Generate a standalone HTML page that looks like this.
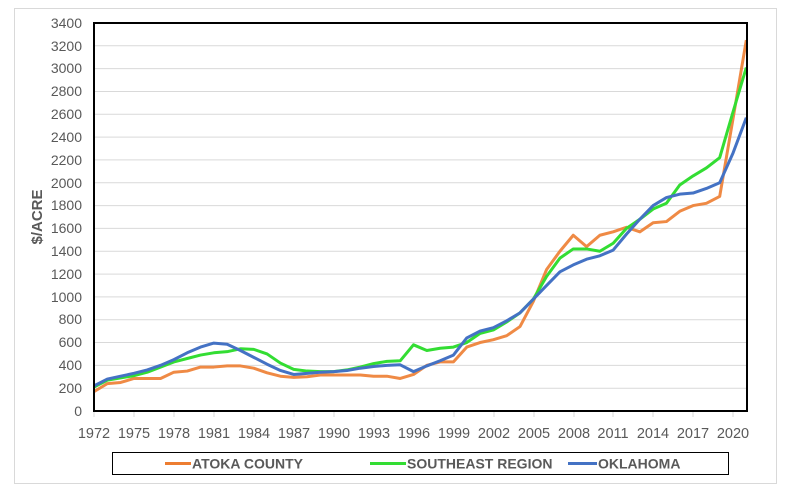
<!DOCTYPE html>
<html><head><style>
body{margin:0;background:#fff;}
svg text{font-family:"Liberation Sans",sans-serif;fill:#595959;}
</style></head><body>
<svg width="786" height="498" xmlns="http://www.w3.org/2000/svg">
<rect x="14.5" y="8.5" width="762" height="475" fill="#fff" stroke="#d9d9d9"/>
<g stroke="#d9d9d9" stroke-width="1">
<line x1="94" x2="747" y1="388.2" y2="388.2"/><line x1="94" x2="747" y1="365.4" y2="365.4"/>
<line x1="94" x2="747" y1="342.5" y2="342.5"/><line x1="94" x2="747" y1="319.7" y2="319.7"/>
<line x1="94" x2="747" y1="296.9" y2="296.9"/><line x1="94" x2="747" y1="274.1" y2="274.1"/>
<line x1="94" x2="747" y1="251.2" y2="251.2"/><line x1="94" x2="747" y1="228.4" y2="228.4"/>
<line x1="94" x2="747" y1="205.6" y2="205.6"/><line x1="94" x2="747" y1="182.8" y2="182.8"/>
<line x1="94" x2="747" y1="159.9" y2="159.9"/><line x1="94" x2="747" y1="137.1" y2="137.1"/>
<line x1="94" x2="747" y1="114.3" y2="114.3"/><line x1="94" x2="747" y1="91.5" y2="91.5"/>
<line x1="94" x2="747" y1="68.6" y2="68.6"/><line x1="94" x2="747" y1="45.8" y2="45.8"/>
</g>
<g stroke="#d9d9d9"><line x1="94" x2="94" y1="411" y2="417"/>
<line x1="134" x2="134" y1="411" y2="417"/><line x1="174" x2="174" y1="411" y2="417"/><line x1="214" x2="214" y1="411" y2="417"/><line x1="254" x2="254" y1="411" y2="417"/><line x1="294" x2="294" y1="411" y2="417"/><line x1="334" x2="334" y1="411" y2="417"/><line x1="374" x2="374" y1="411" y2="417"/><line x1="414" x2="414" y1="411" y2="417"/><line x1="454" x2="454" y1="411" y2="417"/><line x1="494" x2="494" y1="411" y2="417"/><line x1="534" x2="534" y1="411" y2="417"/><line x1="574" x2="574" y1="411" y2="417"/><line x1="613" x2="613" y1="411" y2="417"/><line x1="653" x2="653" y1="411" y2="417"/><line x1="693" x2="693" y1="411" y2="417"/><line x1="733" x2="733" y1="411" y2="417"/></g>
<g transform="translate(94,411) scale(13.3125,-0.11412)" fill="none" stroke-width="3" stroke-linejoin="round">
<polyline vector-effect="non-scaling-stroke" stroke="#ed7d31" stroke-opacity="0.9" points="0,170 1,240 2,250 3,285 4,285 5,285 6,340 7,350 8,385 9,385 10,395 11,395 12,375 13,335 14,305 15,295 16,300 17,315 18,315 19,315 20,315 21,305 22,305 23,285 24,320 25,400 26,430 27,430 28,560 29,600 30,625 31,660 32,740 33,960 34,1240 35,1400 36,1540 37,1440 38,1540 39,1570 40,1610 41,1570 42,1650 43,1660 44,1750 45,1800 46,1820 47,1880 48,2560 49,3250"/>
<polyline vector-effect="non-scaling-stroke" stroke="#33dd33" points="0,210 1,270 2,290 3,310 4,340 5,385 6,430 7,460 8,490 9,510 10,520 11,545 12,540 13,500 14,420 15,365 16,350 17,345 18,345 19,360 20,385 21,415 22,435 23,440 24,580 25,530 26,550 27,560 28,600 29,680 30,710 31,780 32,860 33,980 34,1180 35,1340 36,1420 37,1420 38,1400 39,1470 40,1600 41,1680 42,1770 43,1820 44,1980 45,2060 46,2130 47,2220 48,2620 49,3010"/>
<polyline vector-effect="non-scaling-stroke" stroke="#4472c4" points="0,220 1,280 2,305 3,330 4,360 5,400 6,450 7,510 8,560 9,595 10,585 11,530 12,470 13,410 14,355 15,320 16,330 17,340 18,345 19,355 20,375 21,390 22,400 23,405 24,345 25,395 26,440 27,490 28,640 29,700 30,730 31,790 32,860 33,980 34,1100 35,1220 36,1280 37,1330 38,1360 39,1410 40,1550 41,1680 42,1800 43,1870 44,1900 45,1910 46,1950 47,2000 48,2260 49,2570"/>
</g>
<rect x="94" y="23" width="653" height="388" fill="none" stroke="#000" stroke-width="2"/>
<g font-size="14" text-anchor="end">
<text x="82" y="416">0</text><text x="82" y="393">200</text><text x="82" y="370">400</text><text x="82" y="347">600</text><text x="82" y="324">800</text><text x="82" y="302">1000</text><text x="82" y="279">1200</text><text x="82" y="256">1400</text><text x="82" y="233">1600</text><text x="82" y="210">1800</text><text x="82" y="188">2000</text><text x="82" y="165">2200</text><text x="82" y="142">2400</text><text x="82" y="119">2600</text><text x="82" y="96">2800</text><text x="82" y="73">3000</text><text x="82" y="51">3200</text><text x="82" y="28">3400</text>
</g>
<g font-size="14.5" text-anchor="middle">
<text x="94" y="438">1972</text><text x="134" y="438">1975</text><text x="174" y="438">1978</text><text x="214" y="438">1981</text><text x="254" y="438">1984</text><text x="294" y="438">1987</text><text x="334" y="438">1990</text><text x="374" y="438">1993</text><text x="414" y="438">1996</text><text x="454" y="438">1999</text><text x="494" y="438">2002</text><text x="534" y="438">2005</text><text x="574" y="438">2008</text><text x="613" y="438">2011</text><text x="653" y="438">2014</text><text x="693" y="438">2017</text><text x="733" y="438">2020</text>
</g>
<text x="42" y="217" font-size="15" font-weight="bold" text-anchor="middle" transform="rotate(-90 42 217)">$/ACRE</text>
<rect x="112.5" y="452.5" width="616" height="22" fill="#fff" stroke="#000"/>
<g stroke-width="3"><line x1="165" x2="191" y1="463.5" y2="463.5" stroke="#ed7d31"/><line x1="370" x2="406" y1="463.5" y2="463.5" stroke="#33dd33"/><line x1="568" x2="597" y1="463.5" y2="463.5" stroke="#4472c4"/></g>
<g font-size="14" font-weight="bold"><text x="192" y="468.5">ATOKA COUNTY</text><text x="407" y="468.5">SOUTHEAST REGION</text><text x="598" y="468.5">OKLAHOMA</text></g>
</svg>
</body></html>
